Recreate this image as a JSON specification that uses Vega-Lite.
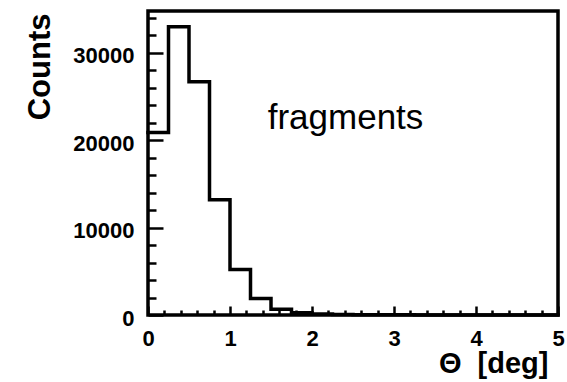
{
  "$schema": "https://vega.github.io/schema/vega-lite/v6.json",
  "width": 410,
  "height": 304,
  "autosize": {"type": "none"},
  "padding": {"left": 148, "top": 11, "right": 9, "bottom": 67},
  "background": "white",
  "config": {
    "view": {"stroke": "black", "strokeWidth": 3.5},
    "font": "Liberation Sans",
    "axis": {"domain": false, "grid": false, "ticks": true, "tickColor": "black", "tickWidth": 2.5, "tickOpacity": 1, "labelOverlap": false, "labelFlush": false, "zindex": 1}
  },
  "resolve": {"axis": {"x": "independent", "y": "independent"}},
  "layer": [
    {
      "data": {"values": [
        {"theta": 0, "counts": 20900},
        {"theta": 0.25, "counts": 33000},
        {"theta": 0.5, "counts": 26700},
        {"theta": 0.75, "counts": 13200},
        {"theta": 1.0, "counts": 5200},
        {"theta": 1.25, "counts": 1900},
        {"theta": 1.5, "counts": 650},
        {"theta": 1.75, "counts": 260},
        {"theta": 2.0, "counts": 110},
        {"theta": 2.25, "counts": 60},
        {"theta": 2.5, "counts": 40},
        {"theta": 2.75, "counts": 28},
        {"theta": 3.0, "counts": 20},
        {"theta": 3.25, "counts": 14},
        {"theta": 3.5, "counts": 10},
        {"theta": 3.75, "counts": 8},
        {"theta": 4.0, "counts": 6},
        {"theta": 4.25, "counts": 4},
        {"theta": 4.5, "counts": 3},
        {"theta": 4.75, "counts": 2},
        {"theta": 5.0, "counts": 2}
      ]},
      "mark": {"type": "line", "interpolate": "step-after", "color": "black", "strokeWidth": 3.5, "strokeJoin": "miter", "strokeCap": "square"},
      "encoding": {
        "x": {
          "field": "theta", "type": "quantitative",
          "scale": {"domain": [0, 5], "nice": false, "zero": false},
          "axis": {
            "orient": "bottom",
            "offset": -9,
            "values": [0, 1, 2, 3, 4, 5],
            "format": "d",
            "tickSize": 9,
            "labelFont": "Liberation Sans",
            "labelFontWeight": "bold",
            "labelFontSize": 22,
            "labelColor": "black",
            "labelPadding": 13,
            "labelBaseline": "top",
            "title": "Θ\u00a0\u00a0[deg]",
            "titleFont": "Liberation Sans",
            "titleFontWeight": "bold",
            "titleFontSize": 29,
            "titleColor": "black",
            "titleAnchor": "end",
            "titleAlign": "right",
            "titleBaseline": "alphabetic",
            "titleX": 400,
            "titleY": 66
          }
        },
        "y": {
          "field": "counts", "type": "quantitative",
          "scale": {"domain": [0, 34800], "nice": false},
          "axis": {
            "orient": "left",
            "offset": -15,
            "values": [0, 10000, 20000, 30000],
            "format": "d",
            "tickSize": 15,
            "labelFont": "Liberation Sans",
            "labelFontWeight": "bold",
            "labelFontSize": 22,
            "labelColor": "black",
            "labelPadding": 14,
            "labelOffset": 3,
            "title": "Counts",
            "titleFont": "Liberation Sans",
            "titleFontWeight": "bold",
            "titleFontSize": 31,
            "titleColor": "black",
            "titleAngle": -90,
            "titleAlign": "right",
            "titleBaseline": "middle",
            "titleX": -123,
            "titleY": 2
          }
        }
      }
    },
    {
      "data": {"values": [{"theta": 1.46, "counts": 21300, "label": "fragments"}]},
      "mark": {"type": "text", "align": "left", "baseline": "alphabetic", "font": "Liberation Sans", "fontSize": 35, "color": "black"},
      "encoding": {
        "x": {
          "field": "theta", "type": "quantitative",
          "axis": {
            "orient": "bottom",
            "offset": -5,
            "values": [0.2,0.4,0.6,0.8,1.2,1.4,1.6,1.8,2.2,2.4,2.6,2.8,3.2,3.4,3.6,3.8,4.2,4.4,4.6,4.8],
            "tickSize": 5,
            "labels": false,
            "title": null
          }
        },
        "y": {
          "field": "counts", "type": "quantitative",
          "axis": {
            "orient": "left",
            "offset": -8,
            "values": [2000,4000,6000,8000,12000,14000,16000,18000,22000,24000,26000,28000,32000,34000],
            "tickSize": 8,
            "labels": false,
            "title": null
          }
        },
        "text": {"field": "label"}
      }
    }
  ]
}
